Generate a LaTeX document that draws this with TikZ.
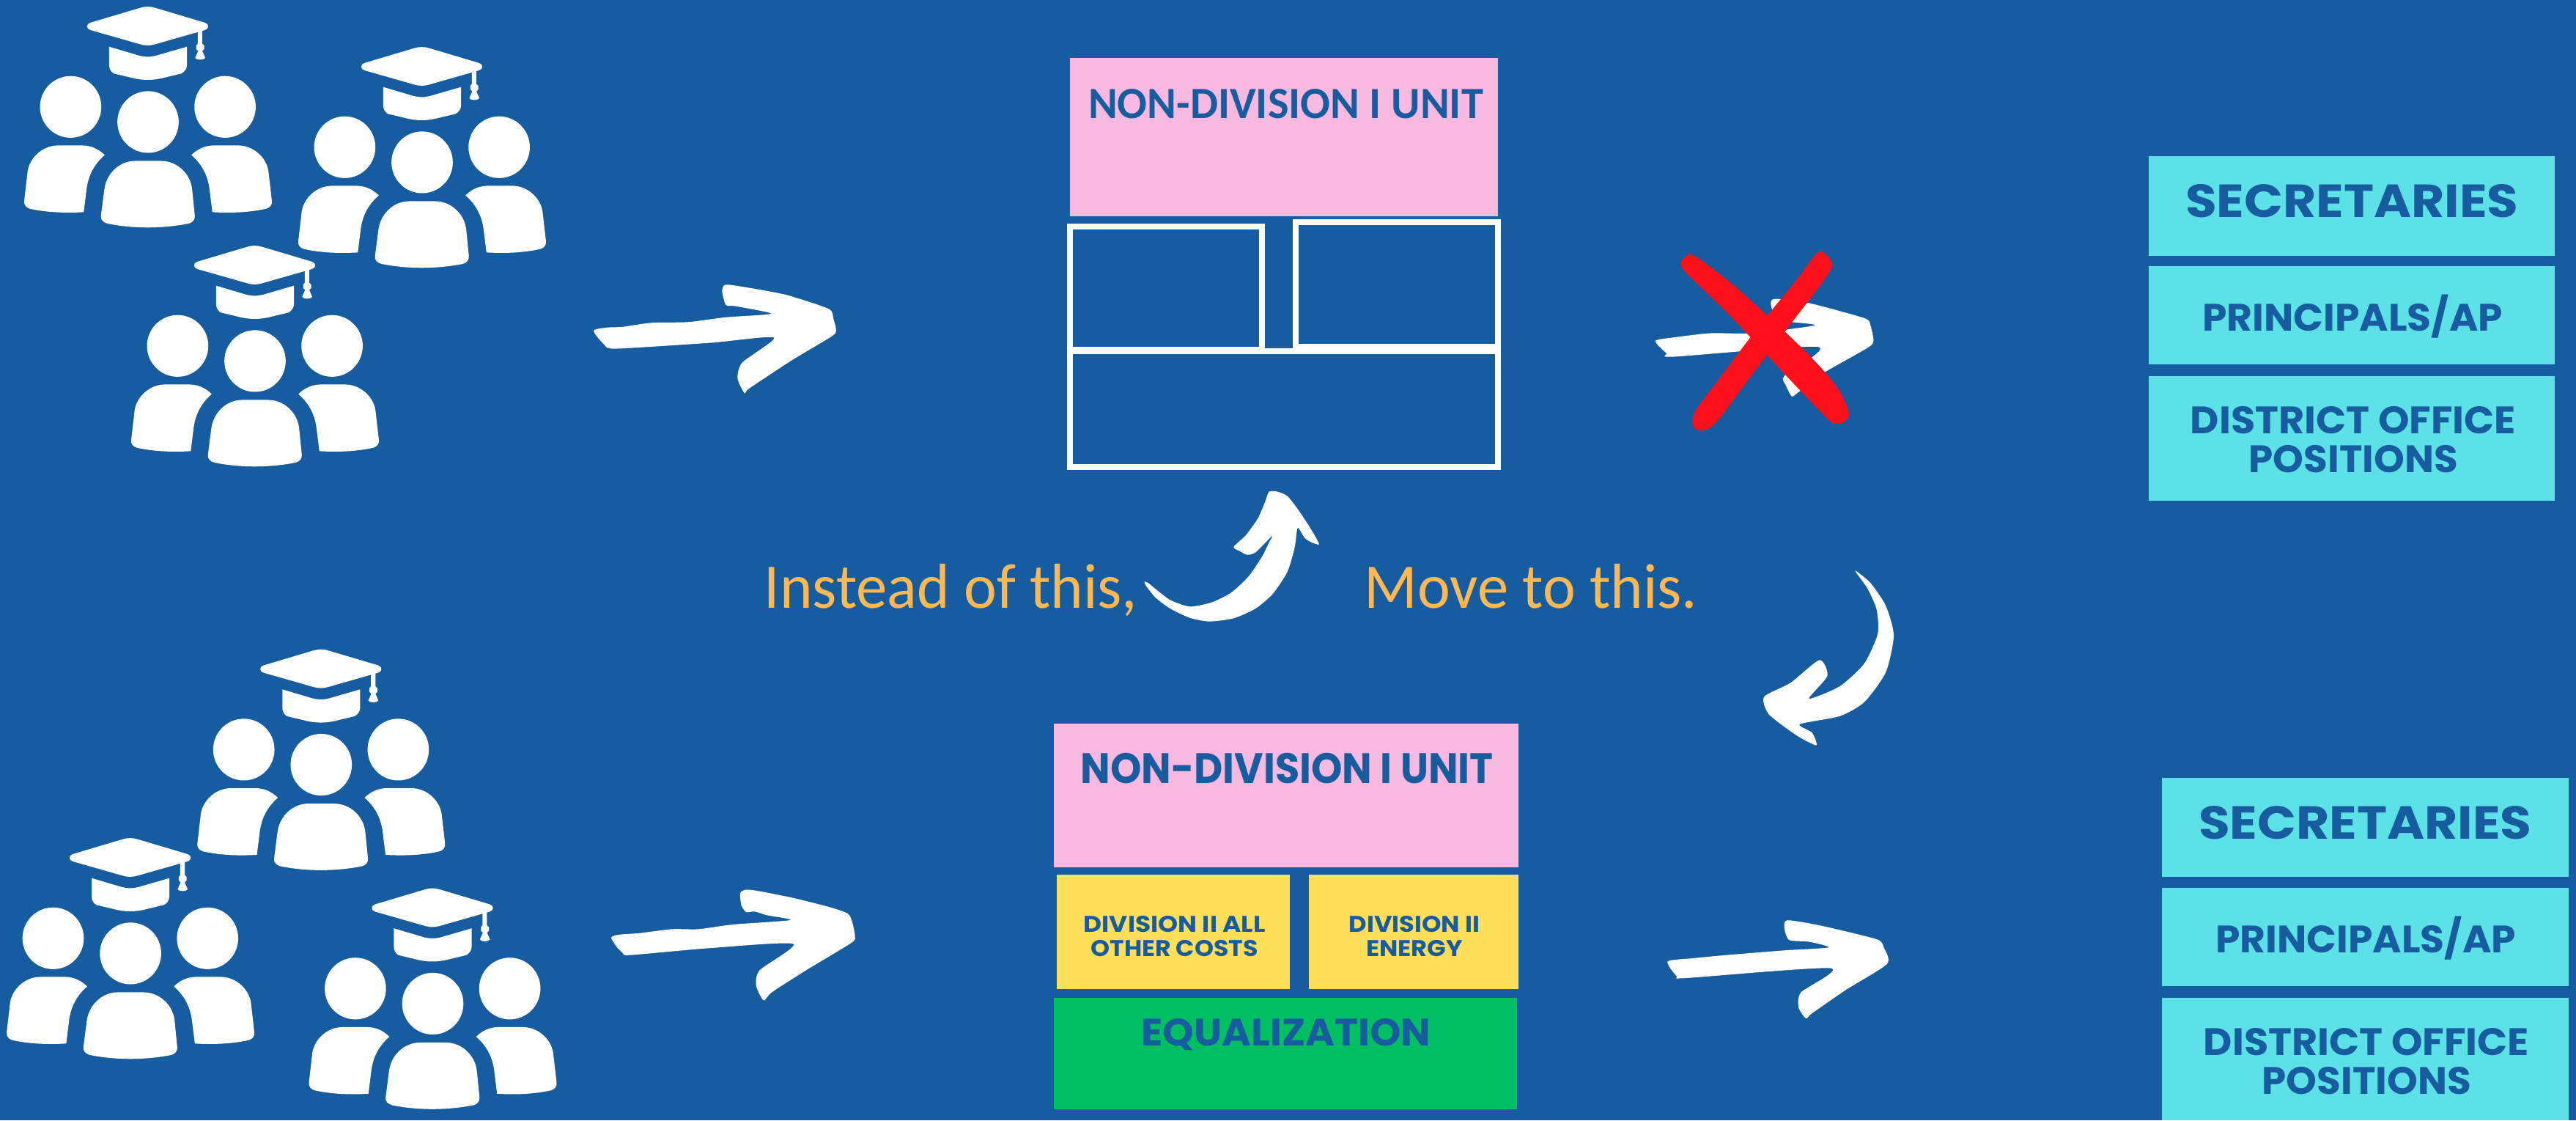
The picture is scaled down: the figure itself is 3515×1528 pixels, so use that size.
\documentclass[tikz,border=0pt]{standalone}
\usepackage{graphicx}
\usepackage{fontspec}
\newfontfamily\popfont{Poppins}
\newfontfamily\calfont{Carlito}
\definecolor{bgblue}{RGB}{21,93,160}
\definecolor{txtblue}{RGB}{24,92,160}
\definecolor{pinkbox}{RGB}{247,185,223}
\definecolor{cyanbox}{RGB}{92,225,230}
\definecolor{yellowbox}{RGB}{255,222,89}
\definecolor{greenbox}{RGB}{0,191,99}
\definecolor{orangetxt}{RGB}{255,184,82}
\definecolor{redx}{RGB}{255,15,25}
\newsavebox\fitbox
\newcommand\fitw[2]{\sbox\fitbox{#2}\pgfmathsetmacro\fitr{#1*0.866/\the\wd\fitbox}\scalebox{\fitr}[1]{\usebox\fitbox}}
\newcommand\bx[6]{\node[boxshape,#6,minimum width={(#4-#2)*0.03cm},minimum height={(#5-#3)*0.03cm}] (#1) at ({(#2+#4)/2},{(#3+#5)/2}) {};}
\tikzset{
  boxshape/.style={inner sep=0,outer sep=0,rectangle},
  lab/.style={inner sep=0,outer sep=0,anchor=base,text=txtblue},
  hdlarge/.style={lab,font=\popfont\bfseries\fontsize{54}{60}\selectfont},
  hdmid/.style={lab,font=\popfont\bfseries\fontsize{44.5}{50}\selectfont},
  hdbottom/.style={lab,font=\popfont\bfseries\fontsize{49.5}{55}\selectfont},
  hdsmall/.style={lab,font=\popfont\bfseries\fontsize{26.5}{30}\selectfont},
  hdcal/.style={lab,font=\calfont\bfseries\fontsize{52}{55}\selectfont},
  note/.style={inner sep=0,outer sep=0,anchor=base,text=orangetxt,font=\calfont\fontsize{74}{80}\selectfont},
  wbox/.style={draw=white,line width=0.25cm},
  peoples/.pic={
    \begin{scope}[xscale=0.5102,yscale=0.4209,shift={(-395,-22)}]
      \fill[white] (375,26) .. controls (388,21) and (402,21) .. (415,26) -- (548,74) .. controls (560,78) and (560,94) .. (548,98) -- (415,144) .. controls (402,149) and (388,149) .. (375,144) -- (242,98) .. controls (230,94) and (230,78) .. (242,74) -- cycle;
      \fill[white] (292,152) -- (370,180) .. controls (388,186) and (402,186) .. (420,180) -- (500,152) -- (500,212) .. controls (500,225) and (492,235) .. (485,239) -- (440,252) .. controls (410,262) and (380,262) .. (350,252) -- (305,239) .. controls (298,235) and (292,225) .. (292,212) -- cycle;
      \fill[white] (529,100) -- (541,96) -- (541,142) -- (546,148) -- (546,160) -- (541,166) -- (549,188) .. controls (545,196) and (525,196) .. (522,188) -- (530,166) -- (525,160) -- (525,148) -- (529,142) -- cycle;
      \fill[white] (189,347) ellipse [x radius=82,y radius=100];
      \fill[white] (396,396) ellipse [x radius=82,y radius=100];
      \fill[white] (602,347) ellipse [x radius=82,y radius=100];
      \fill[white] (155,472) -- (220,472) .. controls (245,472) and (265,485) .. (280,503) .. controls (250,535) and (237,570) .. (232,610) -- (224,688) .. controls (170,692) and (120,688) .. (80,677) .. controls (70,673) and (63,665) .. (65,650) -- (74,555) .. controls (80,510) and (115,472) .. (155,472) -- cycle;
      \fill[white] (637,472) -- (572,472) .. controls (547,472) and (527,485) .. (512,503) .. controls (542,535) and (555,570) .. (560,610) -- (568,688) .. controls (622,692) and (672,688) .. (712,677) .. controls (722,673) and (729,665) .. (727,650) -- (718,555) .. controls (712,510) and (677,472) .. (637,472) -- cycle;
      \fill[white] (362,522) -- (430,522) .. controls (475,522) and (510,565) .. (514,615) -- (521,700) .. controls (522,712) and (515,722) .. (505,725) .. controls (435,742) and (355,742) .. (287,725) .. controls (277,722) and (268,712) .. (270,700) -- (279,615) .. controls (284,565) and (318,522) .. (362,522) -- cycle;
    \end{scope}
  }
}
\begin{document}
\begin{tikzpicture}[x=0.03cm,y=-0.03cm]
\useasboundingbox (0,0) rectangle (3515,1528);
\fill[bgblue] (0,0) rectangle (3515,1528);

% people groups
\pic (groupa) at (201.5,9) {peoples};
\pic (groupb) at (575.5,64) {peoples};
\pic (groupc) at (347.5,335) {peoples};
\pic (groupd) at (437.8,885.6) {peoples};
\pic (groupe) at (177.6,1143) {peoples};
\pic (groupf) at (590,1211.5) {peoples};

% upper stack
\bx{toppink}{1460}{79}{2044}{295}{fill=pinkbox}
\bx{outlineleft}{1460}{309}{1722}{477}{wbox}
\bx{outlineright}{1768}{303}{2044}{473}{wbox}
\bx{outlinelow}{1460}{479}{2044}{637}{wbox}
\node[hdcal] (toppinktxt) at (1754.5,161.5) {\fitw{531}{NON-DIVISION I UNIT}};

% lower stack
\bx{lowpink}{1438}{987}{2072}{1183}{fill=pinkbox}
\bx{yellowleft}{1442}{1193}{1760}{1349}{fill=yellowbox}
\bx{yellowright}{1786}{1193}{2072}{1349}{fill=yellowbox}
\bx{greenlow}{1438}{1361}{2070}{1513}{fill=greenbox}
\node[hdbottom] (lowpinktxt) at (1756.2,1068.7) {\fitw{555}{NON-DIVISION I UNIT}};
\node[hdsmall] (yla) at (1602.7,1271) {\fitw{244.5}{DIVISION II ALL}};
\node[hdsmall] (ylb) at (1602.5,1304) {\fitw{225}{OTHER COSTS}};
\node[hdsmall] (yra) at (1930,1271) {\fitw{176}{DIVISION II}};
\node[hdsmall] (yrb) at (1930,1304) {\fitw{130}{ENERGY}};
\node[hdmid] (eqtxt) at (1754.8,1426) {\fitw{389}{EQUALIZATION}};

% upper right boxes
\bx{seca}{2932}{213}{3486}{349}{fill=cyanbox}
\bx{pria}{2932}{363}{3486}{497}{fill=cyanbox}
\bx{disa}{2932}{513}{3486}{683}{fill=cyanbox}
\node[hdlarge] (secatxt) at (3209.3,296.7) {\fitw{448}{SECRETARIES}};
\node[hdmid] (priatxt) at (3210,451) {\fitw{404}{PRINCIPALS/AP}};
\node[hdmid] (disatxt) at (3211,591.7) {\fitw{438}{DISTRICT OFFICE}};
\node[hdmid] (disbtxt) at (3211.3,644) {\fitw{281}{POSITIONS}};

% lower right boxes
\bx{secb}{2950}{1061}{3504.5}{1196}{fill=cyanbox}
\bx{prib}{2950}{1211}{3504.5}{1345}{fill=cyanbox}
\bx{disb}{2950}{1361}{3504.5}{1528}{fill=cyanbox}
\node[hdlarge] (secbtxt) at (3227.3,1144.7) {\fitw{448}{SECRETARIES}};
\node[hdmid] (pribtxt) at (3228,1299) {\fitw{404}{PRINCIPALS/AP}};
\node[hdmid] (disctxt) at (3229,1439.7) {\fitw{438}{DISTRICT OFFICE}};
\node[hdmid] (disdtxt) at (3229.3,1492) {\fitw{281}{POSITIONS}};

% notes
\node[note] (instead) at (1297.5,829) {\fitw{502}{Instead of this,}};
\node[note] (moveto) at (2089,829) {\fitw{448}{Move to this.}};

% hand-drawn arrows
\begin{scope}[shift={(780,50)},xscale=0.6378,yscale=0.5421]
\fill[white] plot[smooth cycle,tension=0.4] coordinates {(47,740)(75,732)(110,730)(170,720)(250,718)(330,706)(427,697)(350,678)(330,675)(322,640)(330,624)(380,632)(460,650)(550,685)(560,710)(566,740)(555,755)(470,815)(380,885)(370,897)(355,860)(365,820)(433,757)(300,770)(95,785)(70,775)};
\end{scope}
\begin{scope}[shift={(800,1180)},scale=0.3333]
\fill[white] plot[smooth cycle,tension=0.4] coordinates {(102,297)(130,285)(220,278)(350,262)(460,262)(600,243)(835,225)(740,205)(690,190)(655,192)(635,165)(630,115)(650,101)(700,105)(850,135)(1000,173)(1070,198)(1088,230)(1100,290)(1085,318)(900,430)(760,520)(730,553)(715,540)(695,490)(710,430)(847,322)(500,340)(180,368)(150,360)(125,335)};
\end{scope}
\begin{scope}[shift={(2200,300)},xscale=0.8385,yscale=0.4783]
\fill[white] plot[smooth cycle,tension=0.4] coordinates {(70,345)(100,335)(160,323)(230,323)(330,300)(270,285)(258,240)(265,225)(320,237)(410,280)(420,300)(425,345)(415,365)(340,440)(300,495)(292,503)(282,470)(280,445)(335,362)(100,390)(88,380)};
\fill[redx] plot[smooth cycle,tension=0.5] coordinates {(125,98)(145,115)(200,190)(260,285)(320,385)(365,475)(385,550)(375,578)(358,578)(335,540)(270,420)(190,270)(120,150)(112,120)};
\fill[redx] plot[smooth cycle,tension=0.5] coordinates {(342,92)(358,125)(345,170)(280,320)(215,470)(170,575)(148,600)(132,590)(135,545)(175,450)(240,300)(300,170)(330,100)};
\fill[white] plot[smooth cycle,tension=0.4] coordinates {(395,1000)(420,1035)(445,1100)(458,1185)(445,1290)(410,1375)(370,1415)(305,1438)(325,1462)(332,1498)(300,1470)(255,1410)(247,1360)(290,1320)(337,1255)(350,1300)(320,1365)(370,1330)(410,1265)(432,1180)(430,1110)(415,1050)};
\end{scope}
\begin{scope}[shift={(2200,1000)},xscale=0.8385,yscale=0.3367]
\fill[white] plot[smooth cycle,tension=0.4] coordinates {(90,925)(130,912)(190,898)(280,880)(352,868)(320,845)(288,838)(280,790)(285,758)(340,780)(430,835)(442,870)(447,935)(380,1040)(325,1135)(315,1155)(303,1110)(307,1050)(355,952)(120,992)(105,985)};
\end{scope}
\begin{scope}[shift={(1500,620)},scale=0.3333]
\fill[white] plot[smooth cycle,tension=0.4] coordinates {(185,520)(200,525)(230,550)(290,595)(370,622)(460,605)(540,565)(610,500)(665,420)(695,360)(708,332)(640,400)(605,410)(575,395)(550,378)(600,330)(650,260)(680,190)(695,152)(730,152)(770,170)(810,220)(860,295)(900,367)(860,355)(840,340)(812,300)(800,380)(770,480)(710,570)(640,630)(550,670)(450,683)(370,668)(290,630)(230,585)(190,535)};
\end{scope}
\end{tikzpicture}
\end{document}
